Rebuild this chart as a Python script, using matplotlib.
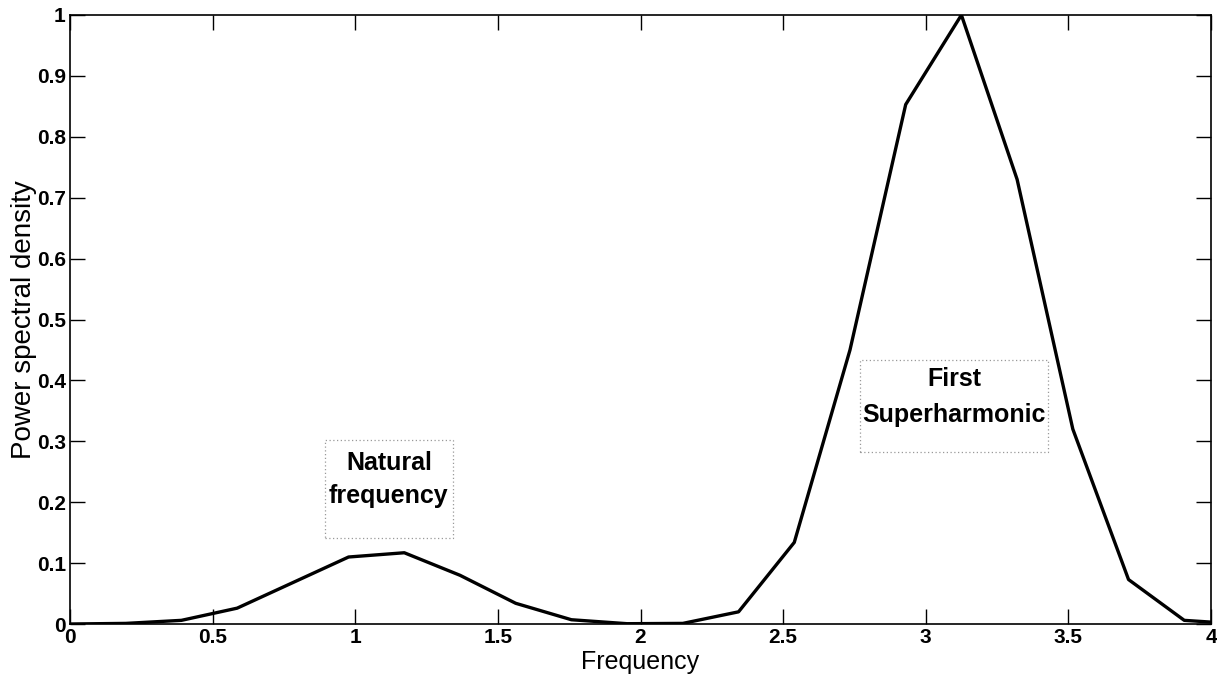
import matplotlib
matplotlib.use('Agg')
import matplotlib.pyplot as plt
from matplotlib.patches import Rectangle

plt.rcParams['font.family'] = ['Liberation Sans Narrow', 'Liberation Sans', 'DejaVu Sans']

# spectrum samples
freq = [0.0, 0.1953, 0.3906, 0.5859, 0.7813, 0.9766, 1.1719, 1.3672, 1.5625,
        1.7578, 1.9531, 2.1484, 2.3438, 2.5391, 2.7344, 2.9297, 3.125, 3.3203,
        3.5156, 3.7109, 3.9063, 4.1016]
psd = [0.0, 0.001, 0.006, 0.026, 0.068, 0.110, 0.117, 0.080, 0.034,
       0.007, 0.0005, 0.001, 0.020, 0.134, 0.450, 0.853, 1.0, 0.730,
       0.320, 0.073, 0.006, 0.0]

xticks = [0, 0.5, 1, 1.5, 2, 2.5, 3, 3.5, 4]
xticklabels = ['0', '0.5', '1', '1.5', '2', '2.5', '3', '3.5', '4']
yticks = [0, 0.1, 0.2, 0.3, 0.4, 0.5, 0.6, 0.7, 0.8, 0.9, 1]
yticklabels = ['0', '0.1', '0.2', '0.3', '0.4', '0.5', '0.6', '0.7', '0.8', '0.9', '1']

fig = plt.figure(figsize=(12.17, 6.87), dpi=100)
ax = fig.add_axes([70 / 1217, 1 - 624 / 687, 1141 / 1217, 609 / 687])

ax.plot(freq, psd, color='black', linewidth=2.4)

ax.set_xlim(0, 4)
ax.set_ylim(0, 1)
ax.set_xticks(xticks)
ax.set_xticklabels(xticklabels, fontweight='bold', fontsize=15)
ax.set_yticks(yticks)
ax.set_yticklabels(yticklabels, fontweight='bold', fontsize=15)
ax.tick_params(direction='in', length=11, width=1, top=True, right=True, pad=3)
for s in ax.spines.values():
    s.set_linewidth(1.2)

ax.set_xlabel('Frequency', fontsize=18, labelpad=2)
ax.set_ylabel('Power spectral density', fontsize=20, labelpad=0)

# annotation boxes
ax.add_patch(Rectangle((0.894, 0.141), 0.449, 0.161, fill=False,
                       edgecolor='#999999', linestyle=(0, (1, 2)), linewidth=0.9))
ax.text(1.118, 0.264, 'Natural', ha='center', va='center', fontsize=18, fontweight='bold')
ax.text(1.118, 0.210, 'frequency', ha='center', va='center', fontsize=18, fontweight='bold')

ax.add_patch(Rectangle((2.769, 0.282), 0.660, 0.151, fill=False,
                       edgecolor='#999999', linestyle=(0, (1, 2)), linewidth=0.9))
ax.text(3.099, 0.402, 'First', ha='center', va='center', fontsize=18, fontweight='bold')
ax.text(3.099, 0.344, 'Superharmonic', ha='center', va='center', fontsize=18, fontweight='bold')

fig.savefig('out.png', dpi=100)
